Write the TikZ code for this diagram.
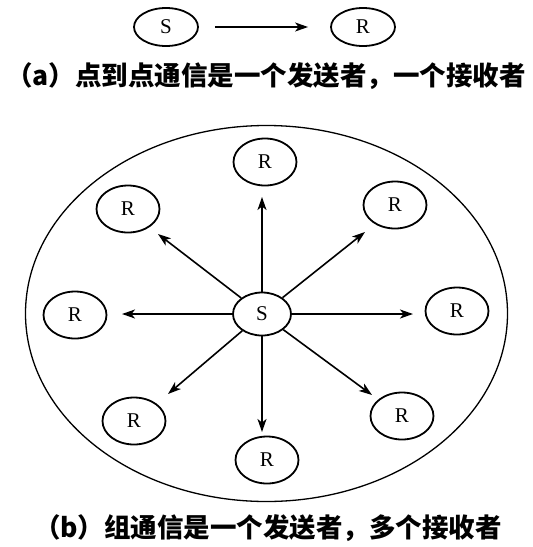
\documentclass[tikz,border=0pt]{standalone}
\usepackage{fontspec}
\setmainfont{Liberation Serif}
\newfontfamily\cjk{Noto Sans CJK SC}
\usetikzlibrary{shapes.geometric,arrows.meta}
\tikzset{
  recv/.style={draw, ellipse, line width=1.8pt, inner sep=0pt, minimum width=63pt, minimum height=47pt, font=\fontsize{21}{21}\selectfont},
  send/.style={draw, ellipse, line width=1.8pt, inner sep=0pt, font=\fontsize{21}{21}\selectfont},
  arr/.style={-{Stealth[length=13pt,width=9pt,inset=3.5pt]}, line width=1.6pt},
  captext/.style={font=\cjk\bfseries\fontsize{26.5}{26.5}\selectfont, inner sep=0pt}
}
\begin{document}
\begin{tikzpicture}[x=1pt,y=-1pt]
\useasboundingbox (0,0) rectangle (533,547);
% (a)
\node[send, minimum width=64pt, minimum height=38pt] (Sa) at (166,27) {S};
\node[send, minimum width=64pt, minimum height=38pt] (Ra) at (363,27) {R};
\draw[arr, shorten <=16pt, shorten >=22pt] (Sa) -- (Ra);
\node[captext] (capa) at (266,76) {（a）点到点通信是一个发送者，一个接收者};
% (b)
\draw[line width=1.3pt] (266.5,313.5) ellipse [x radius=241, y radius=188];
\node[send, minimum width=58pt, minimum height=43pt] (S) at (262,314) {S};
\node[recv] (R1) at (265,162) {R};
\node[recv] (R2) at (395,205) {R};
\node[recv] (R3) at (457,311) {R};
\node[recv] (R4) at (402,416) {R};
\node[recv] (R5) at (267,460) {R};
\node[recv] (R6) at (134,421) {R};
\node[recv] (R7) at (75,315) {R};
\node[recv] (R8) at (128,209) {R};
\coordinate (t1) at (262,197);
\coordinate (t2) at (365,232);
\coordinate (t3) at (413,314);
\coordinate (t4) at (372,395);
\coordinate (t5) at (262,432);
\coordinate (t6) at (168,394);
\coordinate (t7) at (122,314);
\coordinate (t8) at (158,234);
\foreach \i in {1,...,8} {\draw[arr] (S) -- (t\i);}
\node[captext] (capb) at (268,528) {（b）组通信是一个发送者，多个接收者};
\end{tikzpicture}
\end{document}
